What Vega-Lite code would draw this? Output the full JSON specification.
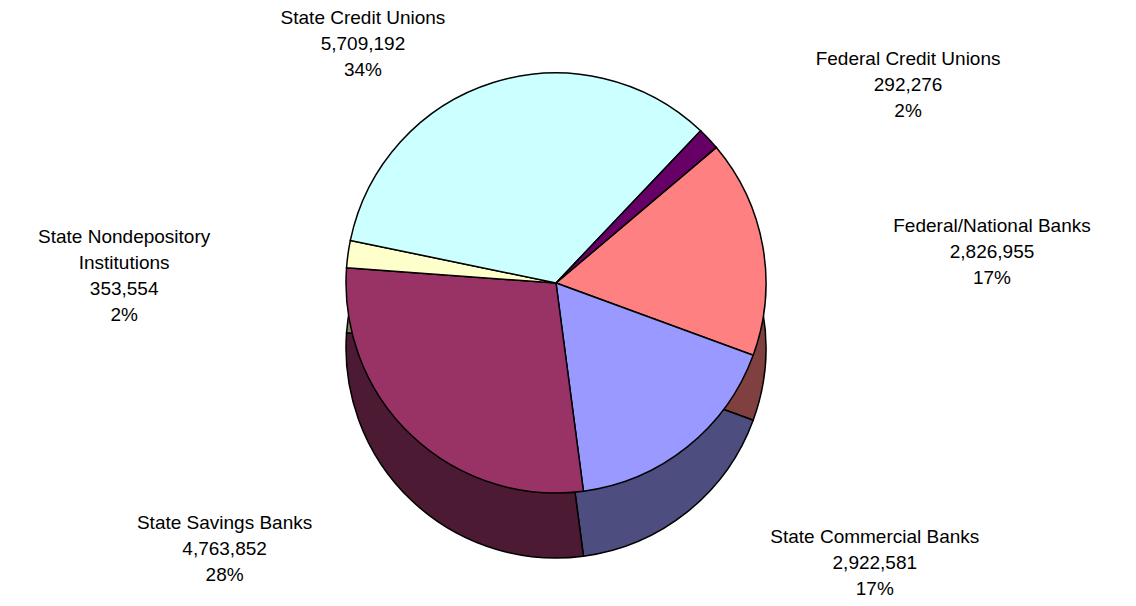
{
  "$schema": "https://vega.github.io/schema/vega-lite/v6.json",
  "width": 1112,
  "height": 566,
  "autosize": {"type": "none"},
  "padding": {"left": 0, "top": 0, "right": 24, "bottom": 40},
  "background": "white",
  "config": {"view": {"stroke": null}},
  "data": {
    "values": [
      {"i": 1, "category": "Federal/National Banks", "value": 2826955},
      {"i": 2, "category": "State Commercial Banks", "value": 2922581},
      {"i": 3, "category": "State Savings Banks", "value": 4763852},
      {"i": 4, "category": "State Nondepository Institutions", "value": 353554},
      {"i": 5, "category": "State Credit Unions", "value": 5709192},
      {"i": 6, "category": "Federal Credit Unions", "value": 292276}
    ]
  },
  "transform": [
    {"joinaggregate": [{"op": "sum", "field": "value", "as": "total"}]},
    {"stack": "value", "groupby": [], "sort": [{"field": "i", "order": "ascending"}], "as": ["t0", "t1"]},
    {"calculate": "(datum.t0 + datum.t1) / 2", "as": "mid"},
    {"calculate": "replace(datum.category, 'Nondepository ', 'Nondepository\\n') + '\\n' + format(datum.value, ',') + '\\n' + format(datum.value / datum.total, '.0%')", "as": "label"}
  ],
  "layer": [
    {
      "mark": {"type": "arc", "outerRadius": 210, "yOffset": 65, "stroke": "black", "strokeWidth": 1.5},
      "encoding": {
        "theta": {"field": "t0", "type": "quantitative", "stack": null, "scale": {"domain": [0, 16868410], "range": [0.869, 7.152]}},
        "theta2": {"field": "t1"},
        "color": {"field": "category", "type": "nominal", "legend": null,
          "scale": {"domain": ["Federal/National Banks", "State Commercial Banks", "State Savings Banks", "State Nondepository Institutions", "State Credit Unions", "Federal Credit Unions"],
                    "range": ["#804040", "#4D4D80", "#4D1A33", "#80806A", "#668080", "#330033"]}}
      }
    },
    {
      "mark": {"type": "arc", "outerRadius": 210, "stroke": "black", "strokeWidth": 1.5},
      "encoding": {
        "theta": {"field": "t0", "type": "quantitative", "stack": null},
        "theta2": {"field": "t1"},
        "fill": {"field": "category", "type": "nominal", "legend": null,
          "scale": {"domain": ["Federal/National Banks", "State Commercial Banks", "State Savings Banks", "State Nondepository Institutions", "State Credit Unions", "Federal Credit Unions"],
                    "range": ["#FF8080", "#9999FF", "#993366", "#FFFFCC", "#CCFFFF", "#660066"]}}
      }
    },
    {
      "transform": [{"filter": {"field": "category", "oneOf": ["Federal/National Banks", "Federal Credit Unions", "State Commercial Banks"]}}],
      "mark": {"type": "text", "radius": 326, "align": "center", "dx": 115, "baseline": "middle", "lineBreak": "\n", "lineHeight": 26, "font": "Liberation Sans", "fontSize": 19, "color": "black"},
      "encoding": {
        "theta": {"field": "mid", "type": "quantitative", "stack": null},
        "text": {"field": "label"}
      }
    },
    {
      "transform": [{"filter": {"field": "category", "oneOf": ["State Nondepository Institutions", "State Savings Banks"]}}],
      "mark": {"type": "text", "radius": 330, "align": "center", "dx": -105, "baseline": "middle", "lineBreak": "\n", "lineHeight": 26, "font": "Liberation Sans", "fontSize": 19, "color": "black"},
      "encoding": {
        "theta": {"field": "mid", "type": "quantitative", "stack": null},
        "text": {"field": "label"}
      }
    },
    {
      "transform": [{"filter": {"field": "category", "equal": "State Credit Unions"}}],
      "mark": {"type": "text", "radius": 278, "align": "center", "dx": -110, "baseline": "middle", "lineBreak": "\n", "lineHeight": 26, "font": "Liberation Sans", "fontSize": 19, "color": "black"},
      "encoding": {
        "theta": {"field": "mid", "type": "quantitative", "stack": null},
        "text": {"field": "label"}
      }
    }
  ],
  "resolve": {"scale": {"color": "independent"}}
}
